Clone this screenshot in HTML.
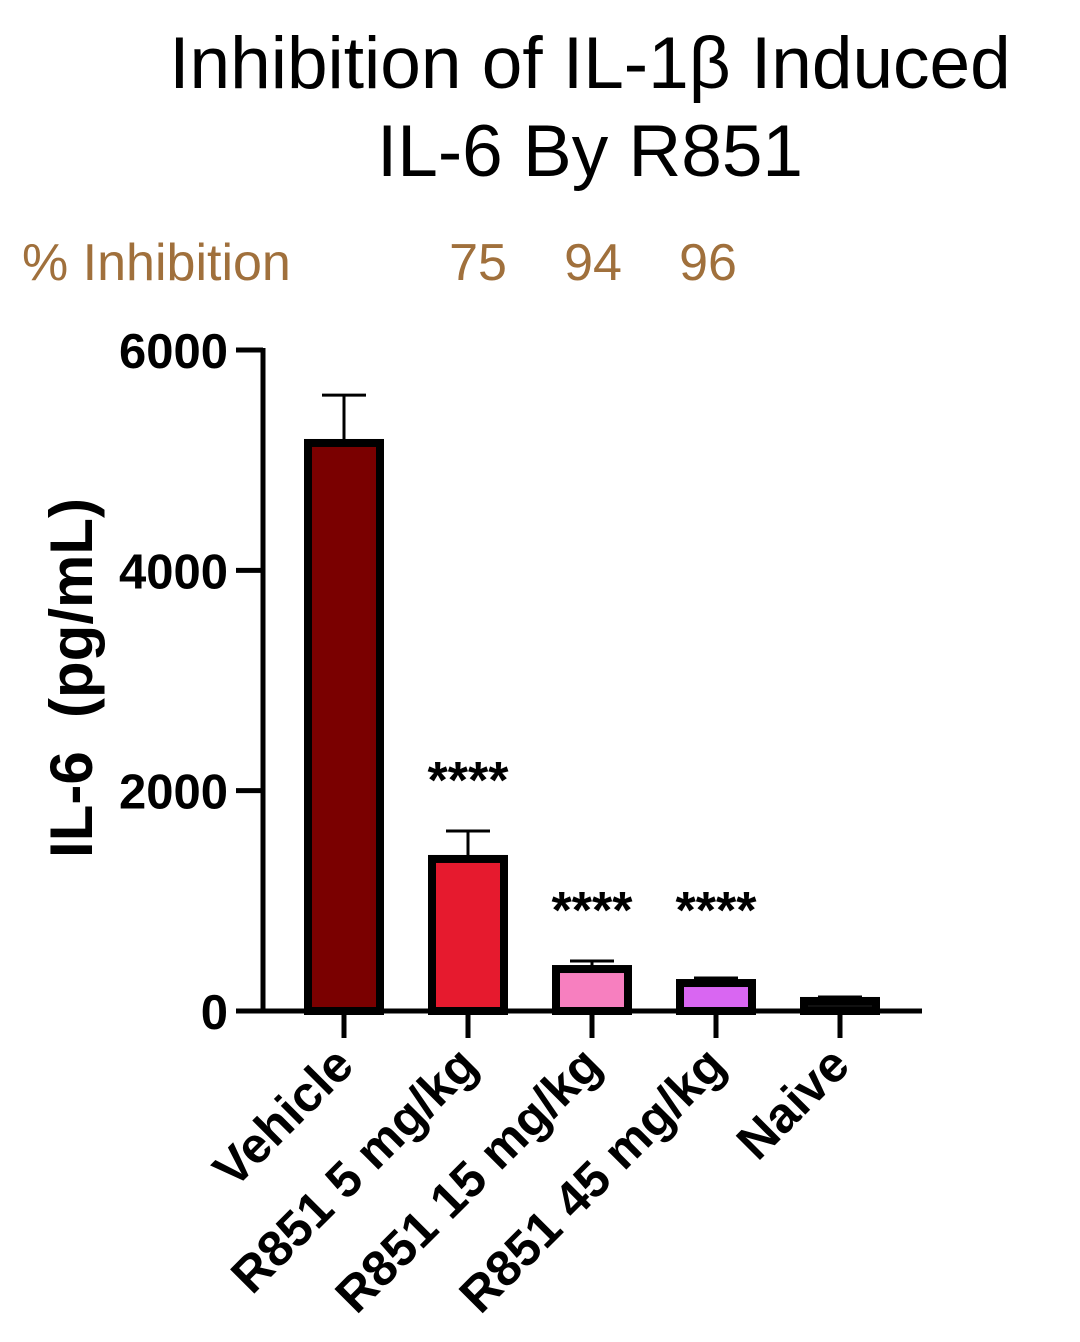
<!DOCTYPE html>
<html><head><meta charset="utf-8"><style>
body{margin:0;background:#fff}
svg{display:block;font-family:"Liberation Sans",Arial,sans-serif}
</style></head><body>
<svg id="chart" width="1080" height="1342" viewBox="0 0 1080 1342">
<text x="590" y="88" font-size="73" text-anchor="middle">Inhibition of IL-1β Induced</text>
<text x="590" y="176" font-size="73" text-anchor="middle">IL-6 By R851</text>
<text x="22" y="280" font-size="52" fill="#a0703c">% Inhibition</text>
<text x="92" y="678" font-size="60" font-weight="bold" text-anchor="middle" transform="rotate(-90 92 678)" xml:space="preserve">IL-6  (pg/mL)</text>
<g id="marks"></g>
</svg>
<script>
const categories=["Vehicle","R851 5 mg/kg","R851 15 mg/kg","R851 45 mg/kg","Naive"];
const values=[5156,1380,381,254,91];
const errors=[434,254,73,46,36];
const colors=["#7a0000","#e61a2e","#f77fbf","#d966f2","#111111"];
const stars=["","****","****","****",""];
const inhibition=["","75","94","96",""];
const yTicks=[0,2000,4000,6000];
const NS="http://www.w3.org/2000/svg";
const g=document.getElementById("marks");
const y0=1011,yTop=350,yMax=6000,xStart=282,step=124;
const y=v=>y0-(v/yMax)*(y0-yTop);
const x=i=>xStart+step*(i+0.5);
function mk(t,a,p){const e=document.createElementNS(NS,t);for(const k in a)e.setAttribute(k,a[k]);(p||g).appendChild(e);return e;}
categories.forEach((c,i)=>{
 const cx=x(i),w=72,top=y(values[i]);
 const capY=y(values[i]+errors[i]);
 const er=mk("line",{x1:cx,x2:cx,y1:capY,y2:top,stroke:"#000","stroke-width":3});
 
 
 const cap=mk("line",{x1:cx-22,x2:cx+22,y1:capY,y2:capY,stroke:"#000","stroke-width":3});
 
 
 const b=mk("rect",{x:cx-w/2,y:top,width:w,height:Math.max(y0-top,1),fill:colors[i],stroke:"#000","stroke-width":8});
 
 
 const tk=mk("line",{x1:cx,x2:cx,y1:y0,y2:y0+27,stroke:"#000","stroke-width":5});
 
 
 const lb=mk("text",{x:cx+12,y:1068,"font-size":50,"font-weight":"bold","text-anchor":"end",transform:`rotate(-45 ${cx+12} 1068)`});
 lb.textContent=c;
 
 
 if(stars[i]){
  let sy=capY;
  if(i>1){sy=Math.min(y(values[2]+errors[2]),y(values[3]+errors[3]));}
  const s=mk("text",{x:cx,y:sy-33,"font-size":52,"font-weight":"bold","text-anchor":"middle"});s.textContent=stars[i];
  
  }
 if(inhibition[i]){const t=mk("text",{x:cx+10-9*(i-1),y:280,"font-size":52,fill:"#a0703c","text-anchor":"middle"});t.textContent=inhibition[i];
 
 }
});
const ya=mk("line",{x1:263,x2:263,y1:yTop-2,y2:y0+2,stroke:"#000","stroke-width":5});


const xa=mk("line",{x1:236,x2:922,y1:y0,y2:y0,stroke:"#000","stroke-width":5});


yTicks.forEach(v=>{
 const l=mk("line",{x1:236,x2:263,y1:y(v),y2:y(v),stroke:"#000","stroke-width":5});
 
 
 const t=mk("text",{x:228,y:y(v)+18,"font-size":49,"font-weight":"bold","text-anchor":"end"});t.textContent=v;
 
 
});
</script>
</body></html>
